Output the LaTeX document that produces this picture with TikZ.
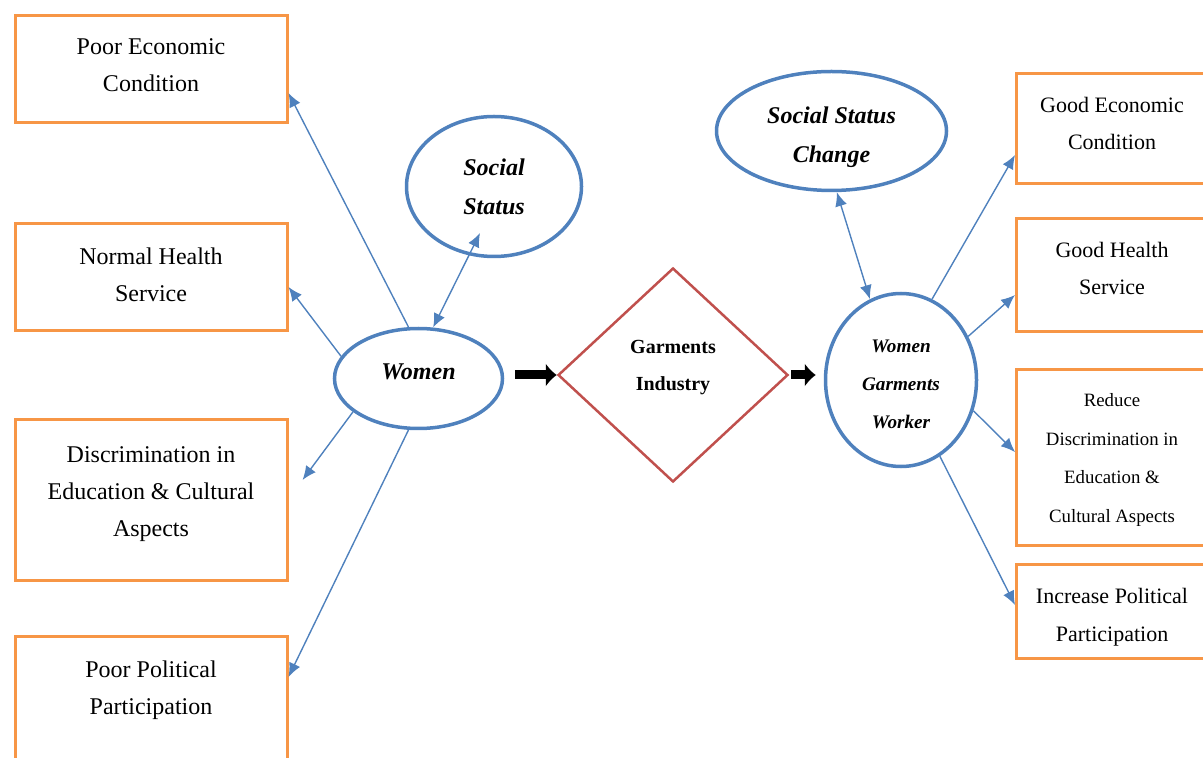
\documentclass[tikz,border=0pt]{standalone}
\usepackage{fontspec}
\setmainfont{Liberation Serif}
\usetikzlibrary{arrows.meta}
\usetikzlibrary{shapes.geometric}

\definecolor{boxorange}{HTML}{F79646}
\definecolor{linkblue}{HTML}{4F81BD}
\definecolor{diamondred}{HTML}{C0504D}

\begin{document}
\begin{tikzpicture}[x=0.5pt, y=-0.5pt]
    \tikzstyle{cause} = [draw=boxorange, line width=1.5pt, rectangle, align=center, anchor=north, minimum width=136pt, inner ysep=0pt, font=\fontsize{12}{18.5}\selectfont];
    \tikzstyle{effect} = [cause, minimum width=95.5pt, text height=38.25pt, font=\fontsize{11}{18.75}\selectfont];
    \tikzstyle{oval} = [draw=linkblue, line width=1.75pt, ellipse, align=center, inner sep=0pt, font=\fontsize{12}{19.5}\selectfont\bfseries\itshape];
    \tikzstyle{line} = [draw=linkblue, line width=0.7pt, -{Latex[length=7pt,width=6pt]}];
    \tikzstyle{twoway} = [line, {Latex[length=7pt,width=6pt]}-{Latex[length=7pt,width=6pt]}];
    \tikzstyle{push} = [draw=black, line width=4.5pt, -{Latex[length=5.5pt,width=12pt]}];
    \useasboundingbox (0,0) rectangle (1203,758);
    \clip (0,0) rectangle (1203,758);
    % left side
    \node[cause, text height=38.25pt, text depth=15.25pt] (pec) at (151,14) {Poor Economic\\Condition};
    \node[cause, text height=39pt, text depth=14.5pt] (nhs) at (151,222) {Normal Health\\Service};
    \node[cause, text height=58.5pt, text depth=22pt] (dec) at (151,418) {Discrimination in\\Education \& Cultural\\Aspects};
    \node[cause, text height=39pt, text depth=32.75pt] (ppp) at (151,635) {Poor Political\\Participation};
    \node[oval, minimum width=84pt, minimum height=50pt, text depth=6.5pt] (women) at (418.5,378.5) {Women};
    \node[oval, minimum width=87.5pt, minimum height=70pt] (ss) at (494,186.5) {Social\\Status};
    % middle
    \node[draw=diamondred, line width=1.25pt, diamond, minimum width=115pt, minimum height=107pt, align=center, inner sep=0pt, text depth=9.5pt, font=\fontsize{10}{18.5}\selectfont\bfseries] (gi) at (673,375) {Garments\\Industry};
    % right side
    \node[oval, minimum width=75.5pt, minimum height=86.5pt, text height=49pt, font=\fontsize{9.6}{19}\selectfont\bfseries\itshape] (wgw) at (901,380) {Women\\Garments\\Worker};
    \node[oval, minimum width=115pt, minimum height=59.5pt, text height=34pt] (ssc) at (831.5,131) {Social Status\\Change};
    \node[effect, text depth=16.75pt] (gec) at (1112,72) {Good Economic\\Condition};
    \node[effect, text depth=18.25pt] (ghs) at (1112,217) {Good Health\\Service};
    \node[effect, text height=76.25pt, text depth=11.75pt, font=\fontsize{9.4}{19.2}\selectfont] (rdc) at (1112,368) {Reduce\\Discrimination in\\Education \&\\Cultural Aspects};
    \node[effect, text depth=8.75pt] (ipp) at (1112,563) {Increase Political\\Participation};

    \tikzstyle{every path}=[line]
    \path (women.101.5) -- ([yshift=-12pt]pec.east);
    \path (women.164.7) -- ([yshift=-5pt]nhs.east);
    \path (women.207.4) -- ([xshift=7pt,yshift=10pt]dec.east);
    \path (women.259) -- ([yshift=-21pt]ppp.north east);
    \path[twoway] (women.74.8) -- ([xshift=-7pt,yshift=-23.25pt]ss.center);
    \path[push, shorten <=5.5pt] (women.east |- gi.west) -- (gi.west);
    \path[push, shorten <=1pt, shorten >=4pt] (gi.east) -- (gi.east -| wgw.west);
    \path[twoway] (ssc.275) -- (wgw.111.8);
    \path (wgw.69.3) -- ([yshift=-13.25pt]gec.west);
    \path (wgw.33.7) -- ([yshift=-10pt]ghs.west);
    \path (wgw.337.4) -- ([yshift=2.75pt]rdc.west);
    \path (wgw.297) -- ([yshift=3.25pt]ipp.west);
\end{tikzpicture}
\end{document}
